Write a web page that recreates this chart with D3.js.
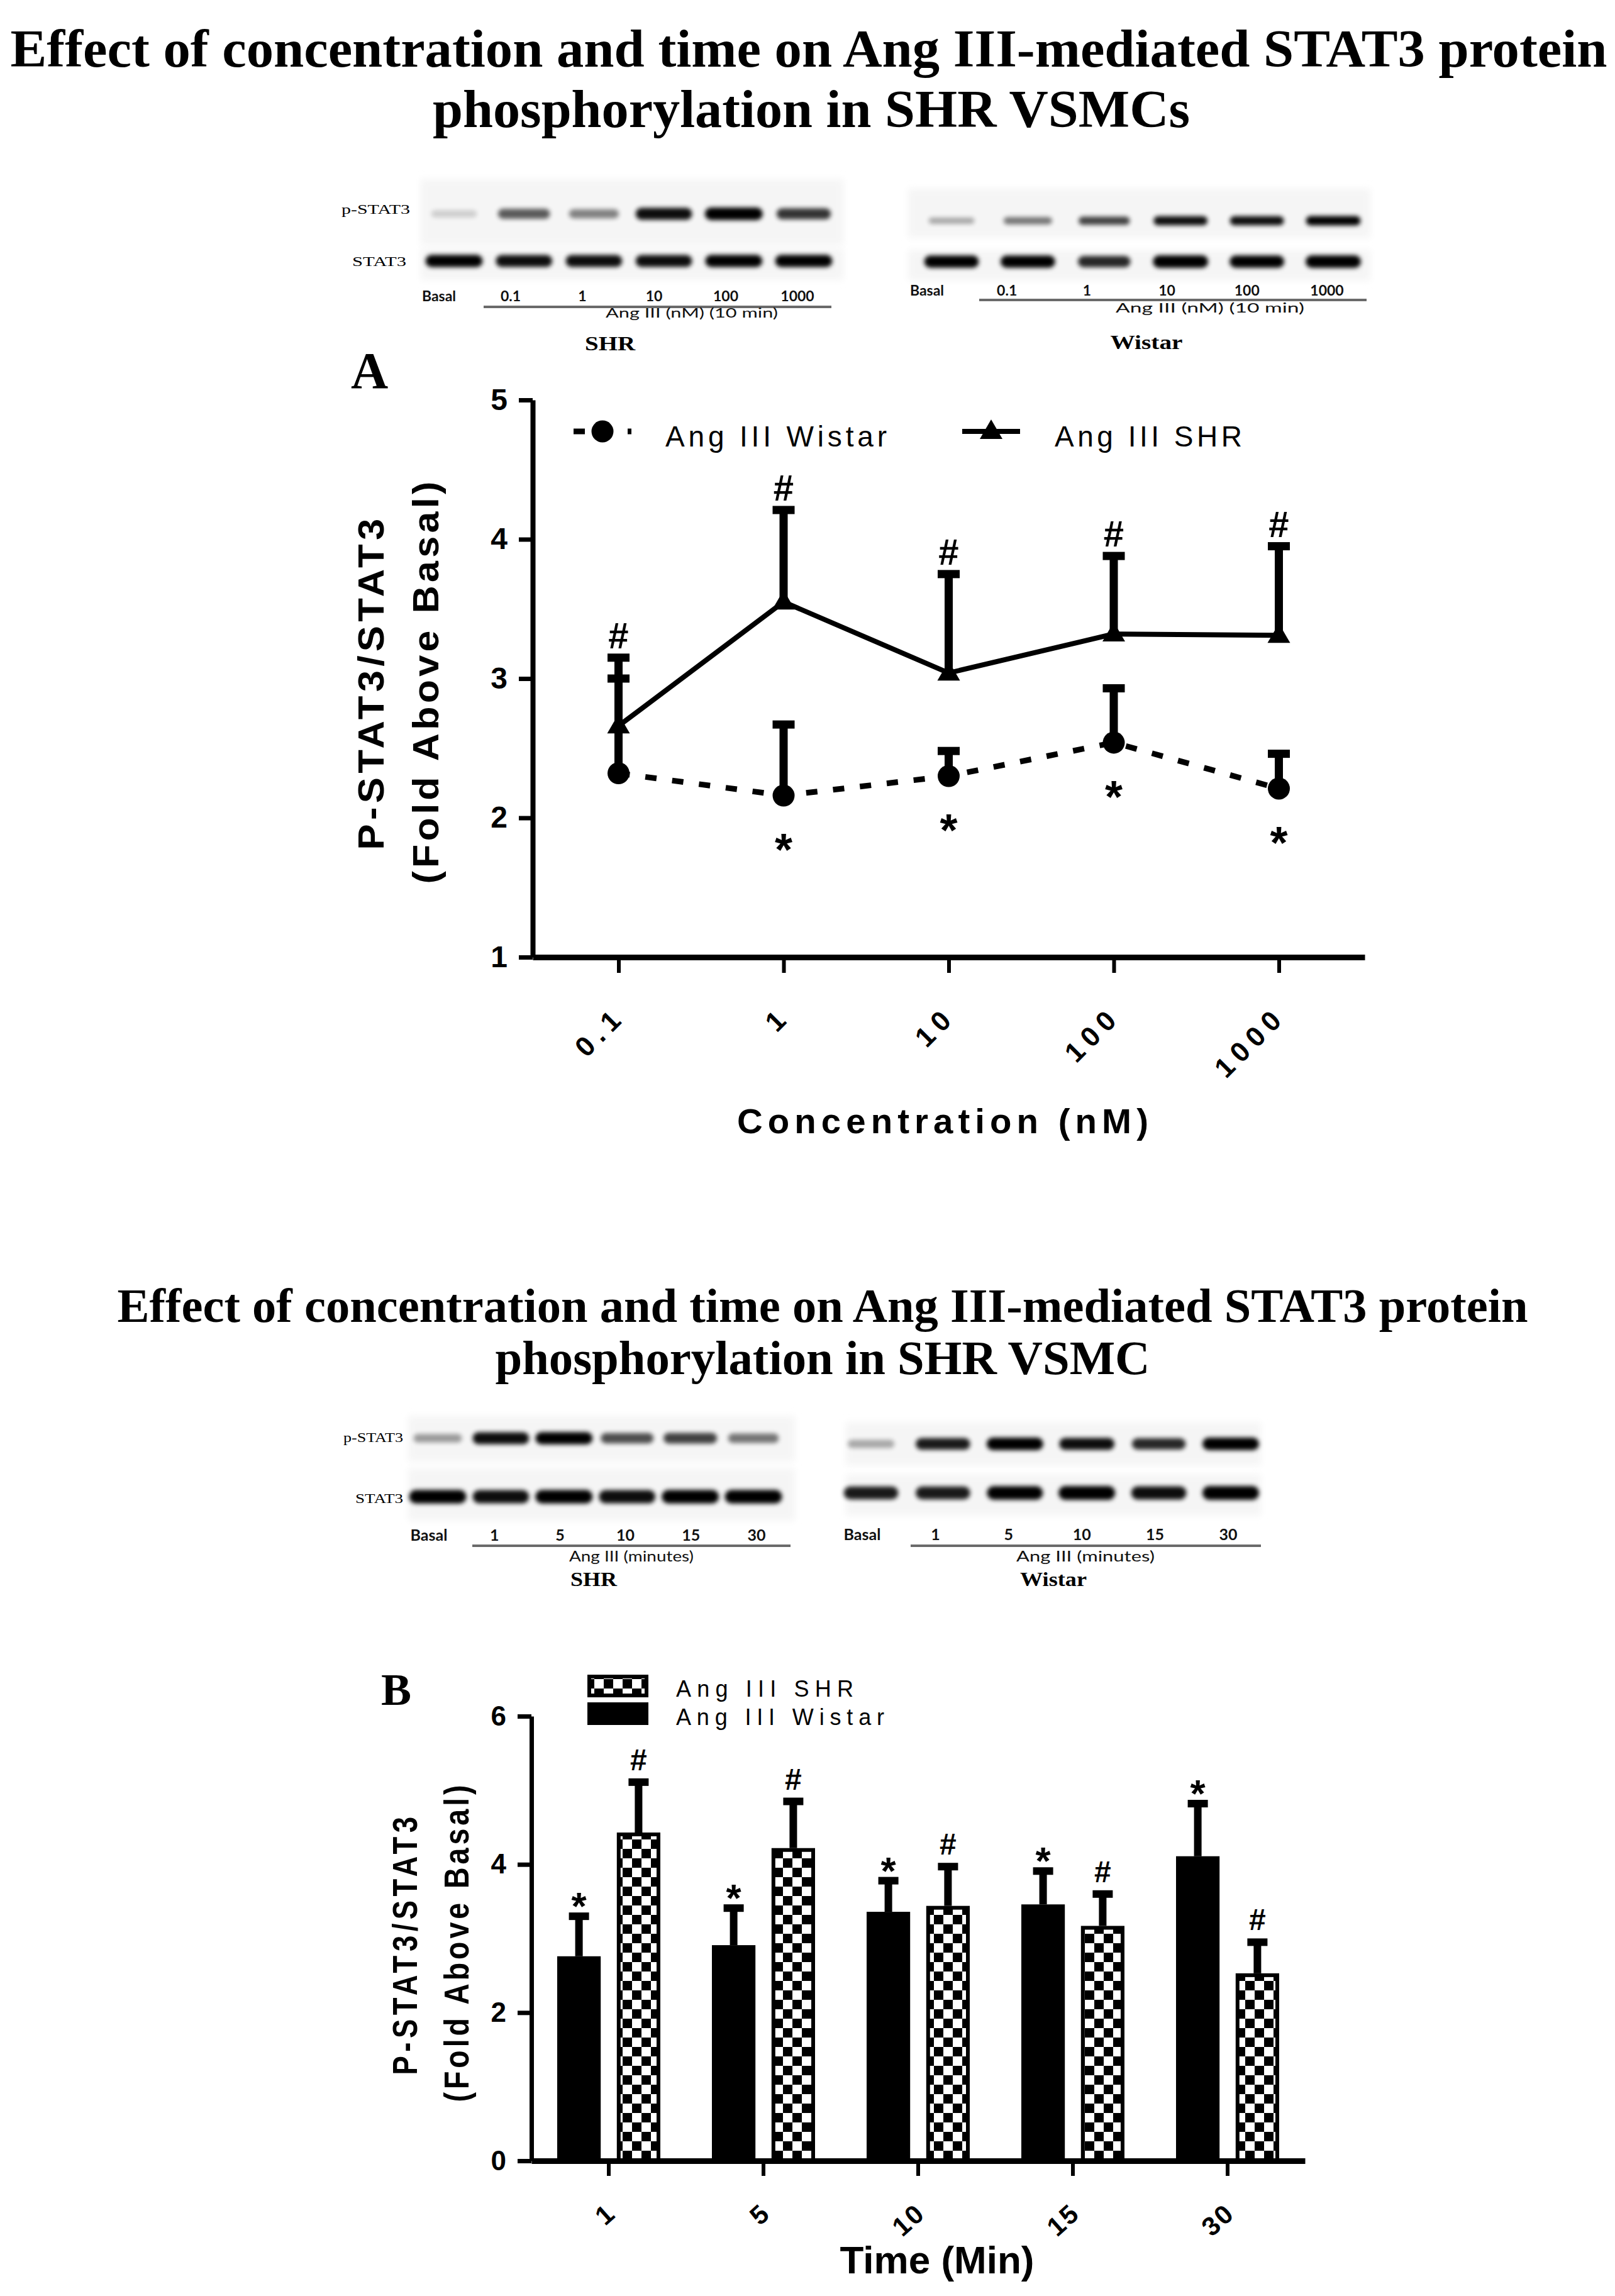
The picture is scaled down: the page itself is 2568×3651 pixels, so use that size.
<!DOCTYPE html>
<html>
<head>
<meta charset="utf-8">
<title>Ang III STAT3 phosphorylation</title>
<script src="https://cdn.jsdelivr.net/npm/d3@7/dist/d3.min.js"></script>
<style>
  body { margin: 0; background: #fff; }
  svg { display: block; }
</style>
</head>
<body>
<svg id="fig"></svg>
<script>
// ---- values ----
// panel A: concentration response (line chart)
const concLabels = ['0.1', '1', '10', '100', '1000']
const wistarConc = [2.32, 2.16, 2.30, 2.54, 2.21]
const wistarConcTop = [3.00, 2.67, 2.48, 2.93, 2.46]
const shrConc = [2.66, 3.55, 3.04, 3.32, 3.31]
const shrConcTop = [3.15, 4.21, 3.75, 3.88, 3.95]
const wistarConcMark = ['', '*', '*', '*', '*']
const shrConcMark = ['#', '#', '#', '#', '#']
const concTicksY = [1, 2, 3, 4, 5]

// panel B: time course (grouped bars)
const timeLabels = ['1', '5', '10', '15', '30']
const wistarTime = [2.76, 2.91, 3.36, 3.46, 4.11]
const wistarTimeTop = [3.30, 3.41, 3.78, 3.91, 4.82]
const shrTime = [4.43, 4.22, 3.44, 3.17, 2.53]
const shrTimeTop = [5.11, 4.85, 3.97, 3.60, 2.95]
const wistarTimeMark = ['*', '*', '*', '*', '*']
const shrTimeMark = ['#', '#', '#', '#', '#']
const timeTicksY = [0, 2, 4, 6]

// western blots: lanes and band strength (0..1)
const concLanes = ['Basal', '0.1', '1', '10', '100', '1000']
const timeLanes = ['Basal', '1', '5', '10', '15', '30']
const shrConcP = [0.15, 0.6, 0.45, 0.9, 1.0, 0.75]
const shrConcT = [0.95, 0.9, 0.9, 0.9, 0.95, 0.95]
const wisConcP = [0.3, 0.5, 0.7, 0.9, 0.9, 0.95]
const wisConcT = [0.95, 0.95, 0.8, 1.0, 0.95, 1.0]
const shrTimeP = [0.35, 0.9, 0.95, 0.65, 0.7, 0.5]
const shrTimeT = [0.95, 0.9, 0.95, 0.9, 0.95, 0.95]
const wisTimeP = [0.3, 0.85, 1.0, 0.9, 0.8, 1.0]
const wisTimeT = [0.85, 0.85, 0.95, 1.0, 0.9, 1.0]

const SANS = "'Liberation Sans', Arial, Helvetica, sans-serif"
const SERIF = "'Liberation Serif', 'Times New Roman', serif"
const BLOT = "Lato, 'Open Sans', sans-serif"

const W = 2568
const H = 3651
const svg = d3.select('#fig').attr('width', W).attr('height', H)
svg.append('rect').attr('width', W).attr('height', H).attr('fill', '#fff')

const defs = svg.append('defs')
defs.append('filter').attr('id', 'bandBlur')
  .attr('x', '-30%').attr('y', '-100%').attr('width', '160%').attr('height', '300%')
  .append('feGaussianBlur').attr('stdDeviation', 3.5)
defs.append('filter').attr('id', 'stripBlur')
  .attr('x', '-10%').attr('y', '-30%').attr('width', '120%').attr('height', '160%')
  .append('feGaussianBlur').attr('stdDeviation', 6)
// checker fill used for the SHR bars
const cell = 15
const pat = defs.append('pattern').attr('id', 'checker')
  .attr('patternUnits', 'userSpaceOnUse').attr('width', cell * 2).attr('height', cell * 2)
pat.append('rect').attr('width', cell * 2).attr('height', cell * 2).attr('fill', '#fff')
pat.append('rect').attr('width', cell).attr('height', cell).attr('fill', '#000')
pat.append('rect').attr('x', cell).attr('y', cell).attr('width', cell).attr('height', cell).attr('fill', '#000')

// small helper for text
function txt (g, str, x, y, o) {
  const t = g.append('text').attr('x', x).attr('y', y).text(str)
    .attr('font-family', o.font || SANS)
    .attr('font-size', o.size)
    .attr('font-weight', o.weight || 'normal')
    .attr('text-anchor', o.anchor || 'middle')
    .attr('fill', o.fill || '#000')
  if (o.len) t.attr('textLength', o.len).attr('lengthAdjust', o.adjust || 'spacingAndGlyphs')
  if (o.spacing) t.attr('letter-spacing', o.spacing)
  if (o.transform) t.attr('transform', o.transform)
  return t
}

// ---- titles ----
txt(svg, 'Effect of concentration and time on Ang III-mediated STAT3 protein', 1286, 106,
  { font: SERIF, size: 85, weight: 'bold', len: 2539 })
txt(svg, 'phosphorylation in SHR VSMCs', 1290, 202,
  { font: SERIF, size: 85, weight: 'bold', len: 1204 })
txt(svg, 'Effect of concentration and time on Ang III-mediated STAT3 protein', 1308, 2102,
  { font: SERIF, size: 76, weight: 'bold', len: 2243 })
txt(svg, 'phosphorylation in SHR VSMC', 1308, 2185,
  { font: SERIF, size: 76, weight: 'bold', len: 1041 })

// ---- western blot ----
function band (g, cx, cy, v, w, h) {
  if (v <= 0) return
  const bw = w * (0.75 + 0.25 * v)
  const bh = h * (0.55 + 0.55 * v)
  g.append('rect')
    .attr('x', cx - bw / 2).attr('y', cy - bh / 2)
    .attr('width', bw).attr('height', bh)
    .attr('rx', bh / 2)
    .attr('fill', '#000')
    .attr('opacity', Math.min(1, v * 1.05))
    .attr('filter', 'url(#bandBlur)')
}

function drawBlot (c) {
  const g = svg.append('g')
  c.strips.forEach(s => {
    g.append('rect').attr('x', s[0]).attr('y', s[1])
      .attr('width', s[2] - s[0]).attr('height', s[3] - s[1])
      .attr('fill', '#f5f5f5').attr('filter', 'url(#stripBlur)')
  })
  const xb = d3.scalePoint().domain(c.lanes).range(c.bandRange)
  c.lanes.forEach((lane, i) => {
    band(g, xb(lane), c.pY, c.pVals[i], c.bandW, c.pH)
    band(g, xb(lane), c.tY, c.tVals[i], c.bandW, c.tH)
  })
  if (c.rowLabels) {
    txt(g, 'p-STAT3', c.rowLabels[0], c.rowLabels[1], { font: SERIF, size: 22, anchor: 'start', len: c.rowLabels[2] })
    txt(g, 'STAT3', c.rowLabels[3], c.rowLabels[4], { font: SERIF, size: 22, anchor: 'start', len: c.rowLabels[5] })
  }
  const xl = d3.scalePoint().domain(c.lanes).range(c.labelRange)
  g.selectAll('text.lane').data(c.lanes).join('text')
    .attr('class', 'lane')
    .attr('x', d => xl(d)).attr('y', c.labelY)
    .attr('text-anchor', 'middle')
    .attr('font-family', BLOT).attr('font-weight', 'bold').attr('font-size', c.labelSize)
    .attr('fill', '#111')
    .text(d => d)
  g.append('line').attr('x1', c.rule[0]).attr('x2', c.rule[1])
    .attr('y1', c.rule[2]).attr('y2', c.rule[2])
    .attr('stroke', '#6a6a6a').attr('stroke-width', 4)
  txt(g, c.angText, c.ang[0], c.ang[1], { font: BLOT, size: c.labelSize - 1, len: c.ang[2], fill: '#111' })
  txt(g, c.name, c.nameAt[0], c.nameAt[1], { font: SERIF, size: 32, weight: 'bold', len: c.nameAt[2] })
}

drawBlot({
  lanes: concLanes, pVals: shrConcP, tVals: shrConcT,
  strips: [[669, 285, 1341, 390], [669, 395, 1341, 445]],
  pY: 340, tY: 415, bandRange: [722, 1278], bandW: 92, pH: 18, tH: 18,
  rowLabels: [543, 340, 109, 560, 423, 86],
  labelRange: [698, 1268], labelY: 479, labelSize: 23,
  rule: [769, 1322, 488],
  angText: 'Ang III (nM) (10 min)', ang: [1100, 505, 274],
  name: 'SHR', nameAt: [970, 557, 80]
})
drawBlot({
  lanes: concLanes, pVals: wisConcP, tVals: wisConcT,
  strips: [[1444, 300, 2179, 378], [1444, 398, 2179, 446]],
  pY: 351, tY: 416, bandRange: [1513, 2120], bandW: 88, pH: 14, tH: 18,
  labelRange: [1474, 2110], labelY: 470, labelSize: 23,
  rule: [1557, 2173, 477],
  angText: 'Ang III (nM) (10 min)', ang: [1924, 497, 300],
  name: 'Wistar', nameAt: [1823, 555, 115]
})
drawBlot({
  lanes: timeLanes, pVals: shrTimeP, tVals: shrTimeT,
  strips: [[649, 2252, 1264, 2324], [649, 2335, 1264, 2418]],
  pY: 2287, tY: 2380, bandRange: [696, 1198], bandW: 92, pH: 18, tH: 20,
  rowLabels: [546, 2293, 95, 565, 2390, 76],
  labelRange: [682, 1203], labelY: 2450, labelSize: 25,
  rule: [751, 1257, 2458],
  angText: 'Ang III (minutes)', ang: [1004, 2483, 198],
  name: 'SHR', nameAt: [944, 2522, 74]
})
drawBlot({
  lanes: timeLanes, pVals: wisTimeP, tVals: wisTimeT,
  strips: [[1345, 2262, 2005, 2330], [1345, 2345, 2005, 2410]],
  pY: 2296, tY: 2374, bandRange: [1385, 1957], bandW: 90, pH: 18, tH: 20,
  labelRange: [1371, 1953], labelY: 2449, labelSize: 25,
  rule: [1448, 2005, 2458],
  angText: 'Ang III (minutes)', ang: [1726, 2483, 220],
  name: 'Wistar', nameAt: [1675, 2522, 106]
})

// ---- panel A: line chart ----
const xA = d3.scalePoint().domain(concLabels).range([847, 2170]).padding(0.52)
const yA = d3.scaleLinear().domain([1, 5]).range([1522, 636])
const gA = svg.append('g')

txt(gA, 'A', 558, 617, { font: SERIF, size: 82, weight: 'bold', anchor: 'start' })

// error bars (upper only)
function errBars (g, xs, means, tops, lw, capW, capH) {
  means.forEach((m, i) => {
    g.append('line').attr('x1', xs[i]).attr('x2', xs[i])
      .attr('y1', m).attr('y2', tops[i])
      .attr('stroke', '#000').attr('stroke-width', lw)
    g.append('rect').attr('x', xs[i] - capW / 2).attr('y', tops[i] - capH / 2)
      .attr('width', capW).attr('height', capH).attr('fill', '#000')
  })
}
const xsA = concLabels.map(d => xA(d))
errBars(gA, xsA, shrConc.map(yA), shrConcTop.map(yA), 13, 35, 13)
errBars(gA, xsA, wistarConc.map(yA), wistarConcTop.map(yA), 13, 35, 13)

const lineA = d3.line().x((d, i) => xsA[i]).y(d => yA(d))
gA.append('path').attr('d', lineA(shrConc))
  .attr('fill', 'none').attr('stroke', '#000').attr('stroke-width', 8).attr('stroke-linejoin', 'miter')
gA.append('path').attr('d', lineA(wistarConc))
  .attr('fill', 'none').attr('stroke', '#000').attr('stroke-width', 9).attr('stroke-dasharray', '18 25')

const tri = 'M0,-19L18,12L-18,12Z'
gA.selectAll('path.tri').data(shrConc).join('path').attr('class', 'tri')
  .attr('d', tri).attr('transform', (d, i) => `translate(${xsA[i]},${yA(d)})`).attr('fill', '#000')
gA.selectAll('circle.dot').data(wistarConc).join('circle').attr('class', 'dot')
  .attr('cx', (d, i) => xsA[i]).attr('cy', d => yA(d)).attr('r', 17.5).attr('fill', '#000')

// significance marks
shrConcMark.forEach((m, i) => {
  txt(gA, m, xsA[i], yA(shrConcTop[i]) - 15, { size: 58, weight: 'bold' })
})
wistarConcMark.forEach((m, i) => {
  if (m) txt(gA, m, xsA[i], yA(wistarConc[i]) + 111, { size: 72, weight: 'bold' })
})

// axes
gA.append('g').attr('transform', 'translate(847,0)')
  .call(d3.axisLeft(yA).tickValues(concTicksY).tickFormat(d3.format('d'))
    .tickSize(22).tickSizeOuter(0).tickPadding(18))
  .call(g => {
    g.select('.domain').attr('stroke-width', 8)
    g.selectAll('.tick line').attr('stroke-width', 7)
    g.selectAll('.tick text').attr('font-family', SANS).attr('font-size', 48).attr('font-weight', 'bold')
  })
gA.append('g').attr('transform', 'translate(0,1522)')
  .call(d3.axisBottom(xA).tickSize(25).tickSizeOuter(0))
  .call(g => {
    g.select('.domain').attr('stroke-width', 9)
    g.selectAll('.tick line').attr('stroke-width', 6)
    g.selectAll('.tick text')
      .attr('x', 0).attr('y', 0).attr('dy', '0.35em')
      .attr('transform', 'translate(2,86) rotate(-45)')
      .attr('text-anchor', 'end')
      .attr('font-family', SANS).attr('font-size', 44).attr('font-weight', 'bold')
      .attr('letter-spacing', 10)
  })

txt(gA, 'P-STAT3/STAT3', 0, 0, { size: 58, weight: 'bold', len: 533, adjust: 'spacingAndGlyphs', spacing: 6, transform: 'translate(610,1085) rotate(-90)' })
txt(gA, '(Fold Above Basal)', 0, 0, { size: 58, weight: 'bold', len: 645, adjust: 'spacingAndGlyphs', spacing: 5, transform: 'translate(697,1083) rotate(-90)' })
txt(gA, 'Concentration (nM)', 1503, 1802, { size: 56, weight: 'bold', len: 662, adjust: 'spacingAndGlyphs', spacing: 8 })

// legend A
gA.append('line').attr('x1', 912).attr('x2', 1004).attr('y1', 686).attr('y2', 686)
  .attr('stroke', '#000').attr('stroke-width', 9).attr('stroke-dasharray', '18 25')
gA.append('circle').attr('cx', 958).attr('cy', 686).attr('r', 17.5)
txt(gA, 'Ang III Wistar', 1058, 710, { size: 46, anchor: 'start', len: 352, adjust: 'spacing' })
gA.append('line').attr('x1', 1530).attr('x2', 1622).attr('y1', 686).attr('y2', 686)
  .attr('stroke', '#000').attr('stroke-width', 8)
gA.append('path').attr('d', tri).attr('transform', 'translate(1576,686)')
txt(gA, 'Ang III SHR', 1677, 710, { size: 46, anchor: 'start', len: 298, adjust: 'spacing' })

// ---- panel B: grouped bars ----
const xB = d3.scaleBand().domain(timeLabels).range([845, 2075])
const subB = d3.scaleBand().domain(['Wistar', 'SHR']).range([-82, 82]).paddingInner(0.27)
const yB = d3.scaleLinear().domain([0, 6]).range([3436, 2729])
const gB = svg.append('g')

txt(gB, 'B', 606, 2711, { font: SERIF, size: 72, weight: 'bold', anchor: 'start' })

const cx = t => xB(t) + xB.bandwidth() / 2
const bw = subB.bandwidth()
gB.selectAll('rect.wis').data(wistarTime).join('rect').attr('class', 'wis')
  .attr('x', (d, i) => cx(timeLabels[i]) + subB('Wistar'))
  .attr('y', d => yB(d)).attr('width', bw).attr('height', d => yB(0) - yB(d))
  .attr('fill', '#000')
gB.selectAll('rect.shr').data(shrTime).join('rect').attr('class', 'shr')
  .attr('x', (d, i) => cx(timeLabels[i]) + subB('SHR') + 3)
  .attr('y', d => yB(d) + 3).attr('width', bw - 6).attr('height', d => yB(0) - yB(d) - 3)
  .attr('fill', 'url(#checker)').attr('stroke', '#000').attr('stroke-width', 6)

const xsW = timeLabels.map(t => cx(t) + subB('Wistar') + bw / 2)
const xsS = timeLabels.map(t => cx(t) + subB('SHR') + bw / 2)
errBars(gB, xsW, wistarTime.map(yB), wistarTimeTop.map(yB), 12, 32, 12)
errBars(gB, xsS, shrTime.map(yB), shrTimeTop.map(yB), 12, 32, 12)

wistarTimeMark.forEach((m, i) => txt(gB, m, xsW[i], yB(wistarTimeTop[i]) + 5, { size: 62, weight: 'bold' }))
shrTimeMark.forEach((m, i) => txt(gB, m, xsS[i], yB(shrTimeTop[i]) - 19, { size: 48, weight: 'bold' }))

gB.append('g').attr('transform', 'translate(845,0)')
  .call(d3.axisLeft(yB).tickValues(timeTicksY).tickFormat(d3.format('d'))
    .tickSize(22).tickSizeOuter(0).tickPadding(18))
  .call(g => {
    g.select('.domain').attr('stroke-width', 7)
    g.selectAll('.tick line').attr('stroke-width', 7)
    g.selectAll('.tick text').attr('font-family', SANS).attr('font-size', 44).attr('font-weight', 'bold')
  })
gB.append('g').attr('transform', 'translate(0,3436)')
  .call(d3.axisBottom(xB).tickSize(24).tickSizeOuter(0))
  .call(g => {
    g.select('.domain').attr('stroke-width', 9)
    g.selectAll('.tick line').attr('stroke-width', 6)
    g.selectAll('.tick text')
      .attr('x', 0).attr('y', 0).attr('dy', '0.35em')
      .attr('transform', 'translate(4,76) rotate(-42)')
      .attr('text-anchor', 'end')
      .attr('font-family', SANS).attr('font-size', 42).attr('font-weight', 'bold')
      .attr('letter-spacing', 3)
  })

txt(gB, 'P-STAT3/STAT3', 0, 0, { size: 56, weight: 'bold', len: 417, adjust: 'spacingAndGlyphs', spacing: 8, transform: 'translate(663,3091) rotate(-90)' })
txt(gB, '(Fold Above Basal)', 0, 0, { size: 56, weight: 'bold', len: 509, adjust: 'spacingAndGlyphs', spacing: 6, transform: 'translate(745,3088) rotate(-90)' })
txt(gB, 'Time (Min)', 1490, 3615, { size: 62, weight: 'bold', len: 309 })

// legend B
gB.append('rect').attr('x', 937).attr('y', 2666).attr('width', 91).attr('height', 30)
  .attr('fill', 'url(#checker)').attr('stroke', '#000').attr('stroke-width', 6)
gB.append('rect').attr('x', 934).attr('y', 2707).attr('width', 97).attr('height', 36).attr('fill', '#000')
txt(gB, 'Ang III SHR', 1075, 2698, { size: 36, anchor: 'start', len: 282, adjust: 'spacing' })
txt(gB, 'Ang III Wistar', 1075, 2743, { size: 36, anchor: 'start', len: 331, adjust: 'spacing' })
</script>
</body>
</html>
